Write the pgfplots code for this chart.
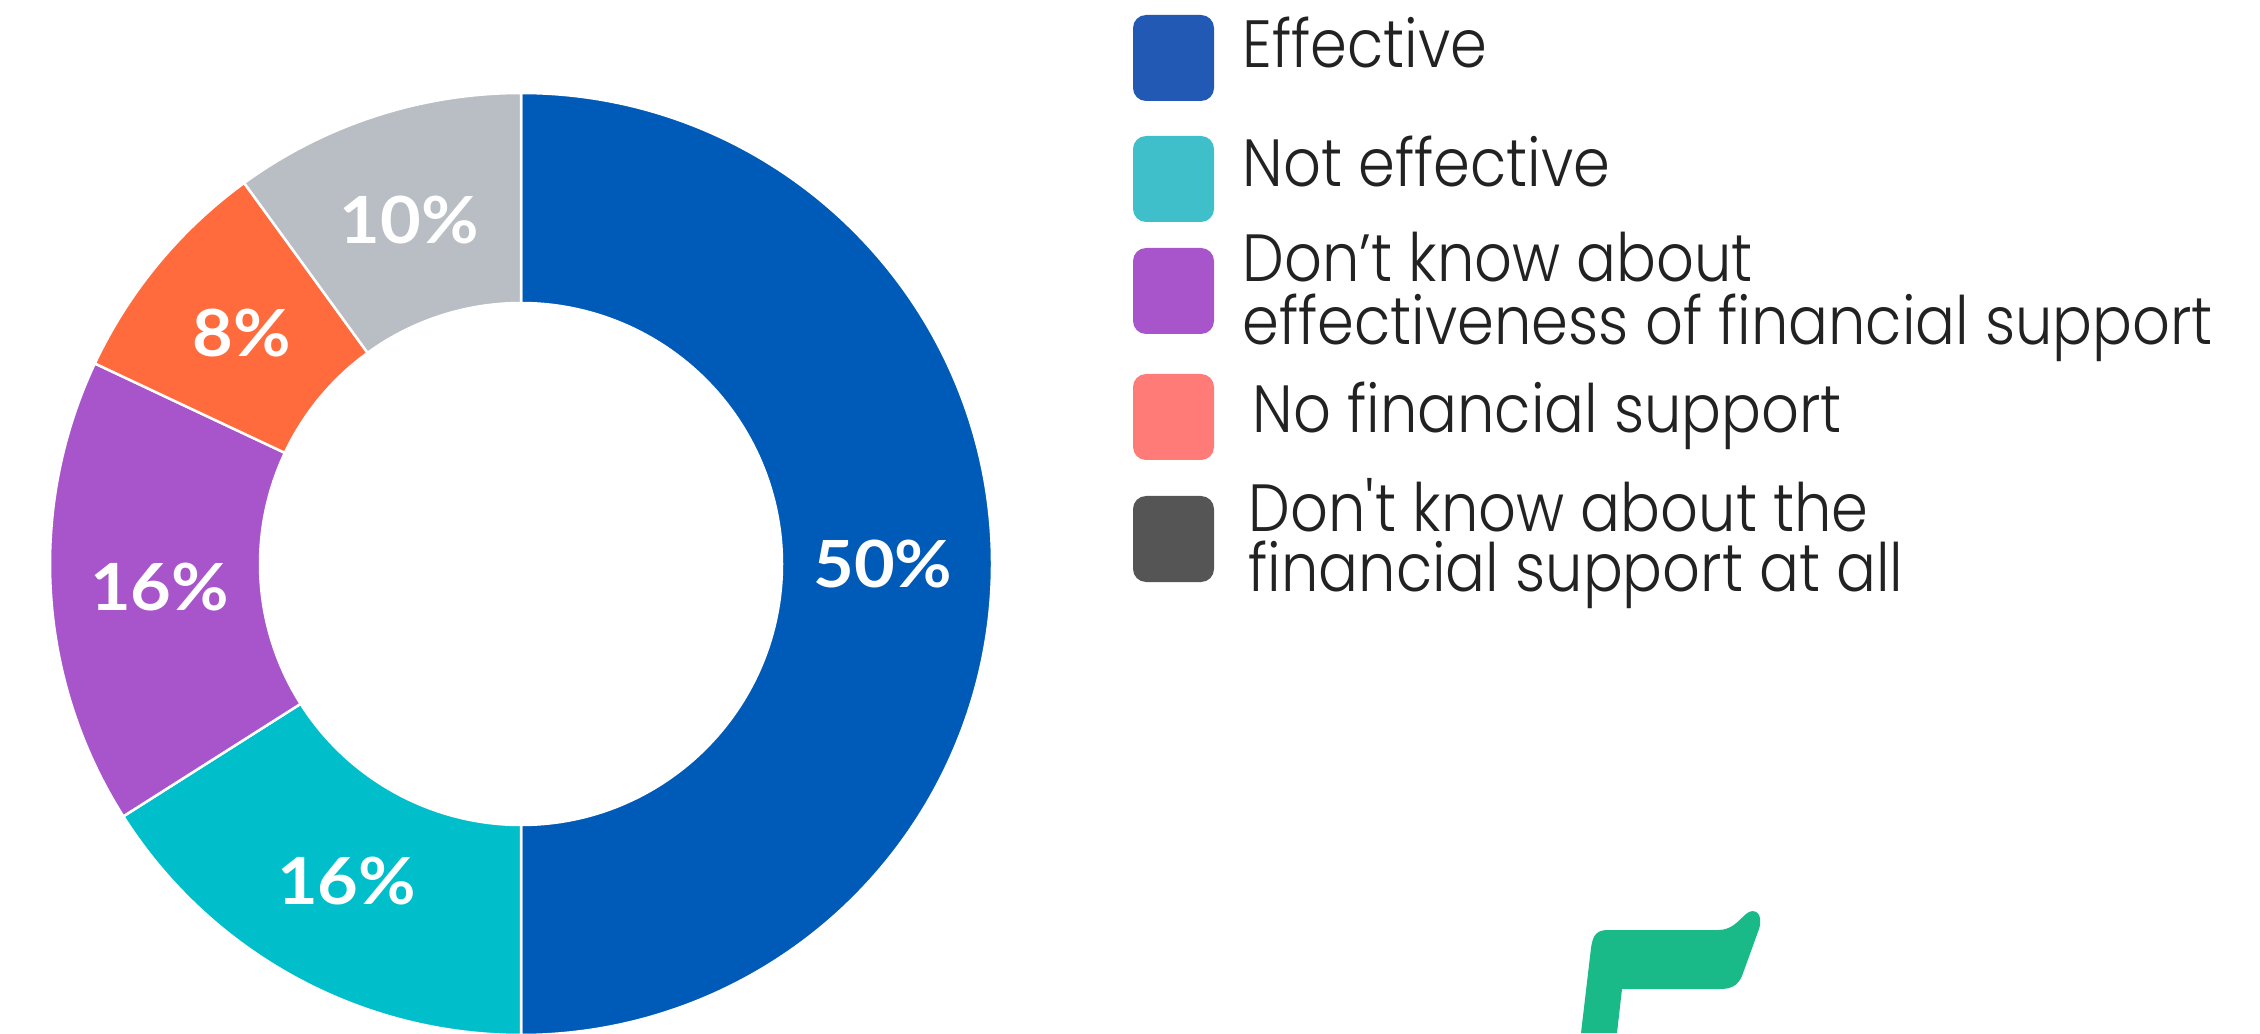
\documentclass[border=0pt]{standalone}
\usepackage{pgfplots}
\pgfplotsset{compat=1.18}
\usepackage{pgfplotstable}
\usepackage{fontspec}
\setmainfont{Poppins}
\newfontfamily\legfont{Poppins Light}[FakeStretch=0.885]
\newfontfamily\pctfont{Lato}[FakeStretch=1.08]
\definecolor{cA}{HTML}{005BB8}
\definecolor{cB}{HTML}{00BFCB}
\definecolor{cC}{HTML}{A855CC}
\definecolor{cD}{HTML}{FF6B3D}
\definecolor{cE}{HTML}{B9BEC4}
\definecolor{lA}{HTML}{2159B5}
\definecolor{lB}{HTML}{3FBFC9}
\definecolor{lC}{HTML}{A855CC}
\definecolor{lD}{HTML}{FF7B78}
\definecolor{lE}{HTML}{555555}
\definecolor{logo}{HTML}{19BA87}
\definecolor{txt}{HTML}{222222}

\pgfplotstableread{
idx value
0 50
1 16
2 16
3 8
4 10
}\donutdata

% cumulative angles, clockwise from 12 o'clock
\def\cum{90}
\foreach \i in {0,...,4}{%
  \pgfplotstablegetelem{\i}{value}\of\donutdata
  \pgfmathsetmacro{\endang}{\cum - 3.6*\pgfplotsretval}%
  \pgfmathsetmacro{\midang}{(\cum + \endang)/2}%
  \expandafter\xdef\csname angS\i\endcsname{\cum}%
  \expandafter\xdef\csname angE\i\endcsname{\endang}%
  \expandafter\xdef\csname angM\i\endcsname{\midang}%
  \expandafter\xdef\csname val\i\endcsname{\pgfplotsretval}%
  \xdef\cum{\endang}%
}

\begin{document}
\begin{tikzpicture}
\path[use as bounding box] (0,0) rectangle (226mm,103.3mm);
\begin{axis}[
  at={(0,0)}, anchor=origin,
  scale only axis, width=226mm, height=103.3mm,
  xmin=0, xmax=2260, ymin=0, ymax=1033,
  hide axis, clip=false,
]
\pgfplotsinvokeforeach{0,...,4}{%
  \fill[fill=c\ifcase#1 A\or B\or C\or D\or E\fi, draw=white, line width=0.25mm]
    ([shift={(\csname angS#1\endcsname:47.1mm)}]axis cs:521,469)
    arc[start angle=\csname angS#1\endcsname, end angle=\csname angE#1\endcsname, radius=47.1mm]
    -- ([shift={(\csname angE#1\endcsname:26.1mm)}]axis cs:521,469)
    arc[start angle=\csname angE#1\endcsname, end angle=\csname angS#1\endcsname, radius=26.1mm]
    -- cycle;
  \node[text=white, font=\pctfont\bfseries\fontsize{18.5}{21}\selectfont, inner sep=0pt]
    at ([shift={(\csname angM#1\endcsname:36.2mm)}]axis cs:521,469)
    {\csname val#1\endcsname\%};
}
% legend
\fill[lA, rounded corners=1.3mm] (axis cs:1133,932) rectangle (axis cs:1214,1018);
\fill[lB, rounded corners=1.3mm] (axis cs:1133,811) rectangle (axis cs:1214,897);
\fill[lC, rounded corners=1.3mm] (axis cs:1133,699) rectangle (axis cs:1214,785);
\fill[lD, rounded corners=1.3mm] (axis cs:1133,573) rectangle (axis cs:1214,659);
\fill[lE, rounded corners=1.3mm] (axis cs:1133,451) rectangle (axis cs:1214,537);
\begin{scope}[every node/.style={anchor=base west, inner sep=0pt, text=txt, font=\legfont\fontsize{19}{23}\selectfont}]
\node at (axis cs:1242,965) {Effective};
\node at (axis cs:1242,846) {Not effective};
\node at (axis cs:1242,751) {Don’t know about};
\node at (axis cs:1242,688) {effectiveness of financial support};
\node at (axis cs:1252,601) {No financial support};
\node at (axis cs:1248,502) {Don\textquotesingle t know about the};
\node at (axis cs:1248,442) {financial support at all};
\end{scope}
% logo
\fill[logo] (axis cs:1581,0) -- (axis cs:1591,85)
  .. controls (axis cs:1593,100) and (axis cs:1598,103) .. (axis cs:1609,103)
  -- (axis cs:1718,103)
  .. controls (axis cs:1732,103) and (axis cs:1738,112) .. (axis cs:1746,119)
  .. controls (axis cs:1754,126) and (axis cs:1764,120) .. (axis cs:1759,104)
  -- (axis cs:1742,57)
  .. controls (axis cs:1738,48) and (axis cs:1732,44) .. (axis cs:1720,44)
  -- (axis cs:1622,44) -- (axis cs:1617,0) -- cycle;
\end{axis}
\end{tikzpicture}
\end{document}
